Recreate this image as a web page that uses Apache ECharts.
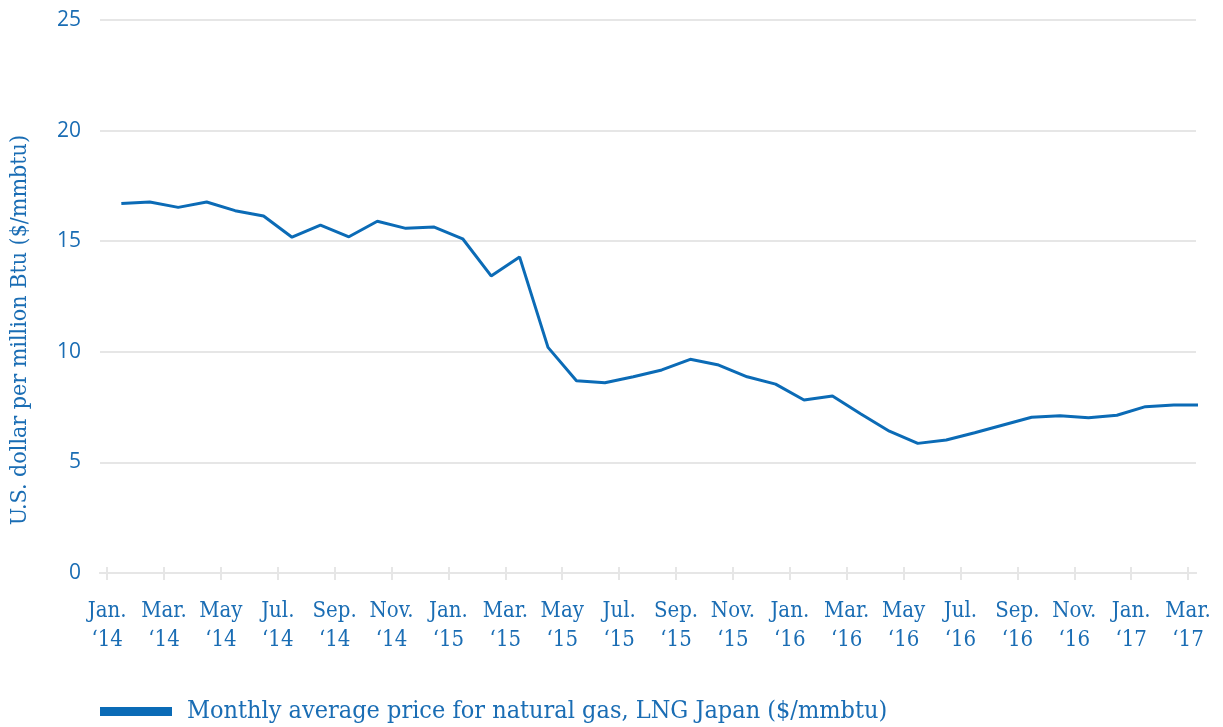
<!DOCTYPE html>
<html>
<head>
<meta charset="utf-8">
<script src="https://cdn.jsdelivr.net/npm/echarts@6/dist/echarts.min.js"></script>
<style>
  html, body { margin: 0; padding: 0; background: #fff; }
  #chart { width: 1223px; height: 727px; }
</style>
</head>
<body>
<div id="chart"></div>
<script>
  // months Jan '14 .. Mar '17, LNG Japan monthly average ($/mmbtu)
  const months = [
    "Jan. '14", "Feb. '14", "Mar. '14", "Apr. '14", "May '14", "Jun. '14",
    "Jul. '14", "Aug. '14", "Sep. '14", "Oct. '14", "Nov. '14", "Dec. '14",
    "Jan. '15", "Feb. '15", "Mar. '15", "Apr. '15", "May '15", "Jun. '15",
    "Jul. '15", "Aug. '15", "Sep. '15", "Oct. '15", "Nov. '15", "Dec. '15",
    "Jan. '16", "Feb. '16", "Mar. '16", "Apr. '16", "May '16", "Jun. '16",
    "Jul. '16", "Aug. '16", "Sep. '16", "Oct. '16", "Nov. '16", "Dec. '16",
    "Jan. '17", "Feb. '17", "Mar. '17"
  ];
  const lngPrice = [
    16.70, 16.77, 16.53, 16.77, 16.38, 16.14, 15.18, 15.73, 15.20, 15.90, 15.58, 15.64,
    15.11, 13.43, 14.29, 10.20, 8.69, 8.60, 8.87, 9.18, 9.66, 9.40, 8.87, 8.54,
    7.82, 8.00, 7.19, 6.41, 5.86, 6.01, 6.34, 6.69, 7.04, 7.11, 7.02, 7.13,
    7.52, 7.59, 7.59
  ];
  // tick labels, one every two months (placed at month start)
  const tickLabels = [
    "Jan.\n‘14", "Mar.\n‘14", "May\n‘14", "Jul.\n‘14", "Sep.\n‘14", "Nov.\n‘14",
    "Jan.\n‘15", "Mar.\n‘15", "May\n‘15", "Jul.\n‘15", "Sep.\n‘15", "Nov.\n‘15",
    "Jan.\n‘16", "Mar.\n‘16", "May\n‘16", "Jul.\n‘16", "Sep.\n‘16", "Nov.\n‘16",
    "Jan.\n‘17", "Mar.\n‘17"
  ];
  const seriesName = "Monthly average price for natural gas, LNG Japan ($/mmbtu)";

  const TEXT_COLOR = "#1a6db4";
  const LINE_COLOR = "#0b6bb6";
  const GRID_COLOR = "#e6e6e6";
  const FONT = "'DejaVu Serif Condensed', 'DejaVu Serif'";

  const tickPos = tickLabels.map((t, i) => i * 2);

  const chart = echarts.init(document.getElementById("chart"));
  const baseX = {
    type: "value",
    min: -0.25,
    max: 38.28,
    splitLine: { show: false },
    axisLine: { show: true, lineStyle: { color: GRID_COLOR, width: 2 } },
  };

  const option = {
    animation: false,
    grid: { left: 100, right: 27, top: 20, bottom: 154 },
    xAxis: [
      Object.assign({}, baseX, {
        axisTick: { show: true, length: 7, customValues: tickPos, lineStyle: { color: GRID_COLOR, width: 2 } },
        axisLabel: {
          customValues: tickPos,
          formatter: v => tickLabels[Math.round(v / 2)],
          color: TEXT_COLOR,
          fontFamily: FONT,
          fontSize: 22,
          lineHeight: 29,
          margin: 24
        }
      }),
      Object.assign({}, baseX, {
        position: "bottom",
        axisTick: { show: true, inside: true, length: 6, customValues: tickPos, lineStyle: { color: GRID_COLOR, width: 2 } },
        axisLabel: { show: false }
      })
    ],
    yAxis: {
      type: "value",
      min: 0,
      max: 25,
      interval: 5,
      axisLine: { show: false },
      axisTick: { show: false },
      splitLine: { lineStyle: { color: GRID_COLOR, width: 2 } },
      axisLabel: { color: TEXT_COLOR, fontFamily: "Open Sans", fontSize: 21, margin: 19 }
    },
    graphic: [{
      type: "text",
      left: 9,
      top: 135,
      rotation: Math.PI / 2,
      style: {
        text: "U.S. dollar per million Btu ($/mmbtu)",
        fill: TEXT_COLOR,
        font: "23px " + FONT
      }
    }],
    legend: {
      left: 95,
      top: 694,
      icon: "rect",
      itemWidth: 72,
      itemHeight: 9,
      textStyle: { color: TEXT_COLOR, fontFamily: FONT, fontSize: 25, padding: [0, 0, 0, 10] },
      data: [seriesName]
    },
    series: [{
      name: seriesName,
      type: "line",
      xAxisIndex: 0,
      clip: false,
      symbol: "none",
      lineStyle: { color: LINE_COLOR, width: 3 },
      itemStyle: { color: LINE_COLOR },
      data: lngPrice.map((v, i) => [i + 0.5, v])
    }]
  };
  chart.setOption(option);
</script>
</body>
</html>
